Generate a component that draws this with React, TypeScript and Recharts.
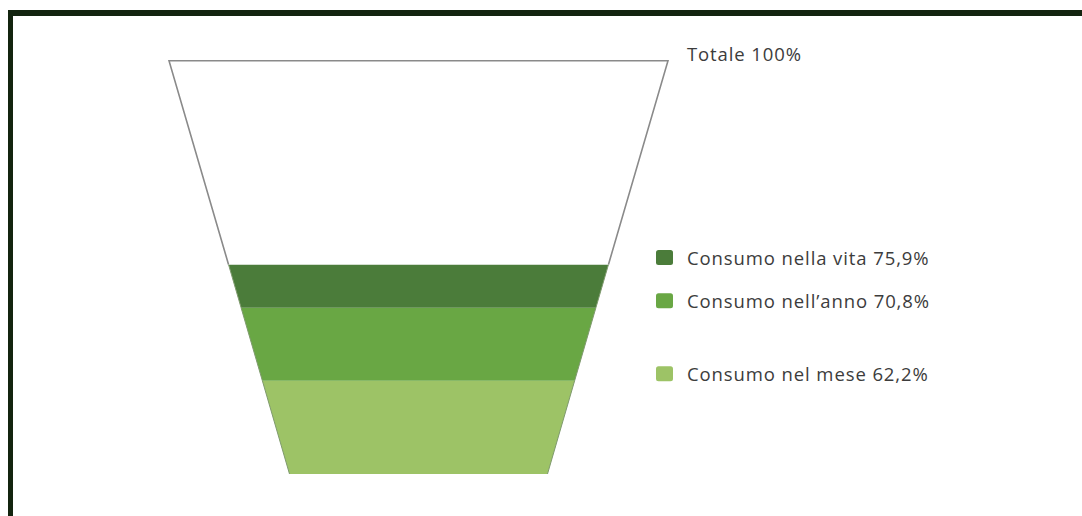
import React from 'react';
import { BarChart, Bar, XAxis, YAxis, LabelList } from 'recharts';

// ---- data ----
const categories = ['Totale', 'Consumo nella vita', 'Consumo nell\u2019anno', 'Consumo nel mese'];
const values = [100, 75.9, 70.8, 62.2];
const seriesKeys = ['totale', 'vita', 'anno', 'mese'];
const yDomain: [number, number] = [51.2, 100];

// ---- styles ----
const colors: Record<string, string> = {
  totale: '#ffffff',
  vita: '#4b7c3a',
  anno: '#69a744',
  mese: '#9dc366',
};
const W = 1082;
const H = 516;
const MARGIN = { top: 60, right: 414, bottom: 42, left: 169 };
const PLOT_TOP = MARGIN.top;
const PLOT_BOTTOM = H - MARGIN.bottom;
const PLOT_RIGHT = W - MARGIN.right;
const TAPER = 0.517;
const FONT = '"Open Sans", "DejaVu Sans", sans-serif';

const row: Record<string, number | string> = {
  name: 'funnel',
  mese: values[3],
  anno: values[2] - values[3],
  vita: values[1] - values[2],
  totale: values[0] - values[1],
};
const chartData = [row];

const fmt = (v: number) => String(v).replace('.', ',') + '%';

const makeShape = (key: string) => (props: any) => {
  const { x, y, width, height } = props;
  const top = Math.max(y, PLOT_TOP);
  const bottom = Math.min(y + height, PLOT_BOTTOM);
  if (!(bottom > top)) return <g />;
  const cx = x + width / 2;
  const halfTop = width / 2;
  const halfBottom = halfTop * TAPER;
  const hw = (py: number) =>
    halfTop - ((halfTop - halfBottom) * (py - PLOT_TOP)) / (PLOT_BOTTOM - PLOT_TOP);
  const tl = [cx - hw(top), top];
  const tr = [cx + hw(top), top];
  const br = [cx + hw(bottom), bottom];
  const bl = [cx - hw(bottom), bottom];
  const poly = `${tl.join(',')} ${tr.join(',')} ${br.join(',')} ${bl.join(',')}`;
  return (
    <g>
      <polygon points={poly} fill={colors[key]} stroke="none" />
      {key === 'totale' ? (
        <path
          d={`M${bl[0]},${bl[1]} L${tl[0]},${tl[1] + 0.7} L${tr[0]},${tr[1] + 0.7} L${br[0]},${br[1]}`}
          fill="none"
          stroke="#8a8a8a"
          strokeWidth={1.6}
        />
      ) : (
        <>
          <line x1={tl[0]} y1={tl[1]} x2={bl[0]} y2={bl[1]} stroke="#7f9a6e" strokeWidth={1} />
          <line x1={tr[0]} y1={tr[1]} x2={br[0]} y2={br[1]} stroke="#7f9a6e" strokeWidth={1} />
        </>
      )}
    </g>
  );
};

const makeLabel = (i: number) => (props: any) => {
  const vb = props.viewBox ?? props;
  const yTop = vb.y ?? props.y;
  const cy = yTop - 7;
  const key = seriesKeys[i];
  return (
    <g>
      {i > 0 ? (
        <rect x={PLOT_RIGHT - 12} y={cy - 7.5} width={17} height={15} rx={2.5} fill={colors[key]} />
      ) : null}
      <text
        x={PLOT_RIGHT + 19}
        y={cy}
        dominantBaseline="central"
        fontFamily={FONT}
        fontSize={18.5}
        letterSpacing={0.9}
        fill="#3c3c3c"
      >
        {`${categories[i]} ${fmt(values[i])}`}
      </text>
    </g>
  );
};

const stackOrder = ['mese', 'anno', 'vita', 'totale'];

export default function App() {
  return (
    <div style={{ position: 'relative', width: W, height: H, background: '#ffffff', overflow: 'hidden' }}>
      <style>{'html,body{margin:0;padding:0;overflow:hidden;background:#fff}'}</style>
      <BarChart width={W} height={H} data={chartData} margin={MARGIN} barCategoryGap={0}>
        <XAxis dataKey="name" hide />
        <YAxis type="number" domain={yDomain} allowDataOverflow hide />
        {stackOrder.map((key) => {
          const i = seriesKeys.indexOf(key);
          return (
            <Bar
              key={key}
              dataKey={key}
              stackId="funnel"
              isAnimationActive={false}
              shape={makeShape(key)}
            >
              <LabelList dataKey={key} content={makeLabel(i)} />
            </Bar>
          );
        })}
      </BarChart>
      <div style={{ position: 'absolute', left: 8, top: 10, width: W - 8, height: 6, background: '#13240f' }} />
      <div style={{ position: 'absolute', left: 8, top: 10, width: 5, height: H - 10, background: '#13240f' }} />
    </div>
  );
}
